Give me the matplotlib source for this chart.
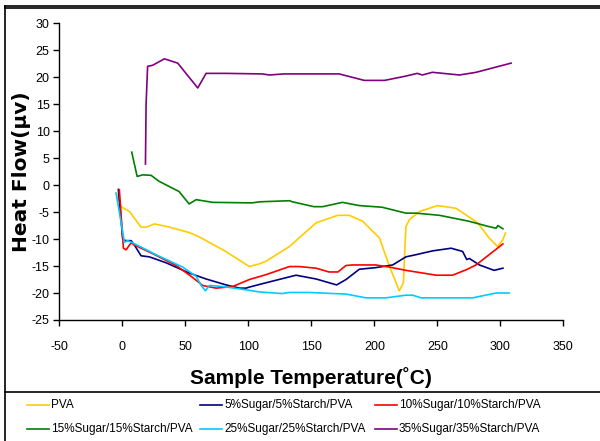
"""DSC heat-flow curves for PVA and sugar/starch/PVA blends."""

import matplotlib

matplotlib.use("Agg")
import matplotlib.pyplot as plt
from matplotlib.lines import Line2D

plt.rcParams["axes.unicode_minus"] = False

# values
pva_t = [-5, -1, 5.6, 14.8, 18.8, 25.4, 36, 53, 61, 82, 100.8, 108.7, 114, 132.5, 153.7,
         170.9, 180, 190.7, 204, 212, 219.8, 223, 225, 227.8, 235.7, 250, 264.8, 282, 291,
         297.9, 302, 304]
pva_q = [-1.5, -4.0, -4.9, -7.8, -7.8, -7.2, -7.7, -8.8, -9.6, -12.3, -15.1, -14.6, -14.1,
         -11.4, -7.0, -5.6, -5.6, -6.7, -9.8, -15.1, -19.6, -18.1, -7.7, -6.4, -4.9, -3.8,
         -4.3, -7.0, -9.8, -11.4, -10.1, -8.9]

s5_t = [-3.2, 0.3, 2.9, 6.9, 9.5, 14.8, 21.4, 34.7, 53, 66.4, 82.3, 93, 98, 100.8, 114,
        137.8, 153.7, 170, 177.5, 188, 201, 214.5, 225, 233, 246, 260.9, 270, 273.3, 275.4,
        283.3, 295, 302]
s5_q = [-0.8, -10.1, -10.3, -10.3, -11.1, -13.1, -13.3, -14.4, -16.3, -17.4, -18.5, -19.1,
        -19.1, -18.9, -18.1, -16.7, -17.4, -18.5, -17.5, -15.6, -15.3, -14.8, -13.3, -12.9,
        -12.2, -11.7, -12.3, -13.8, -13.6, -14.8, -15.8, -15.4]

s10_t = [-2.4, 0.8, 2.9, 6.9, 9.5, 24, 42.6, 54.5, 63.7, 74.4, 87.5, 100.8, 114, 132.5,
         140.5, 153.7, 164, 171, 177.5, 183, 201, 212, 225, 249, 262, 272.8, 280.7, 302]
s10_q = [-0.9, -11.7, -12.0, -10.7, -11.1, -12.7, -14.9, -16.9, -18.6, -19.1, -18.8, -17.5,
         -16.6, -15.1, -15.1, -15.4, -16.1, -16.1, -14.9, -14.8, -14.8, -15.2, -15.8, -16.7,
         -16.7, -15.7, -14.8, -10.9]

s15_t = [7.4, 11.7, 16.1, 22.8, 29.1, 45, 53, 58.5, 71.7, 103, 108.7, 132.5, 135, 152, 159,
         174.6, 188, 206, 225, 233, 251.6, 275, 291, 296.6, 298, 302]
s15_q = [6.1, 1.6, 1.9, 1.8, 0.7, -1.2, -3.5, -2.7, -3.2, -3.3, -3.1, -2.9, -3.1, -4.0, -4.0,
         -3.2, -3.8, -4.1, -5.2, -5.2, -5.6, -6.7, -7.7, -8.0, -7.5, -8.1]

s25_t = [-5, 1.6, 4.2, 8.2, 26.7, 47.9, 58.5, 62.5, 65.9, 69, 79.6, 98, 108.7, 127, 132.5,
         148, 177.5, 193.4, 209, 225, 230.4, 237, 278, 296.6, 307]
s25_q = [-1.5, -10.6, -10.3, -10.7, -12.9, -15.2, -16.9, -18.6, -19.6, -18.6, -18.8, -19.4,
         -19.8, -20.1, -19.9, -19.9, -20.2, -20.9, -20.9, -20.4, -20.4, -20.9, -20.9, -20.0,
         -20.0]

s35_t = [18.3, 18.8, 20, 24, 33.3, 43.9, 59.8, 66.4, 82.3, 111, 116.7, 128, 172, 192, 208,
         225, 234, 238, 246, 267.5, 280.7, 308.5]
s35_q = [3.9, 15.0, 22.0, 22.2, 23.4, 22.6, 18.0, 20.7, 20.7, 20.6, 20.4, 20.6, 20.6, 19.4,
         19.4, 20.2, 20.7, 20.4, 20.9, 20.4, 20.9, 22.6]

series = [
    ("PVA", pva_t, pva_q, "#ffcc00"),
    ("5%Sugar/5%Starch/PVA", s5_t, s5_q, "#000080"),
    ("10%Sugar/10%Starch/PVA", s10_t, s10_q, "#ff0000"),
    ("15%Sugar/15%Starch/PVA", s15_t, s15_q, "#008000"),
    ("25%Sugar/25%Starch/PVA", s25_t, s25_q, "#00ccff"),
    ("35%Sugar/35%Starch/PVA", s35_t, s35_q, "#800080"),
]

x_ticks = list(range(-50, 351, 50))
y_ticks = list(range(-25, 31, 5))

sans = "Liberation Sans"

fig = plt.figure(figsize=(6.0, 4.41), dpi=100)
ax = fig.add_axes([0.099, 0.2744, 0.840, 0.673])

for name, t, q, col in series:
    ax.plot(t, q, color=col, linewidth=1.2, label=name)

ax.set_xlim(-50, 350)
ax.set_ylim(-25, 30)
ax.set_xticks(x_ticks)
ax.set_yticks(y_ticks)
for s in ("top", "right"):
    ax.spines[s].set_visible(False)
for s in ("left", "bottom"):
    ax.spines[s].set_linewidth(1.0)
ax.tick_params(axis="both", direction="out", length=4, width=1.0, labelsize=9)
ax.tick_params(axis="x", pad=11)
ax.tick_params(axis="y", pad=3)
for lab in ax.get_xticklabels() + ax.get_yticklabels():
    lab.set_fontfamily(sans)

ax.set_xlabel("Sample Temperature(˚C)", fontsize=15, fontweight="bold",
              fontfamily=sans, labelpad=10)
ax.set_ylabel("Heat Flow(μv)", fontsize=14.5, fontweight="bold",
              fontfamily="DejaVu Sans", labelpad=4)
ax.yaxis.set_label_coords(-0.056, 0.5)

# outer frame and legend separator
frame = dict(color="black", linewidth=1.2, transform=fig.transFigure)
fig.add_artist(Line2D([5 / 600, 1], [1 - 6 / 441] * 2, **frame))
fig.add_artist(Line2D([5 / 600, 1], [1 - 8 / 441] * 2, **frame))
fig.add_artist(Line2D([5 / 600] * 2, [0, 1 - 6 / 441], **frame))
fig.add_artist(Line2D([5 / 600, 1], [1 - 392 / 441] * 2, **frame))

# legend laid out in the strip under the separator, 3 columns x 2 rows
col_x = [27, 200, 375]
row_y = [405, 429]
for i, (name, t, q, col) in enumerate(series):
    x0 = col_x[i % 3]
    y0 = 1 - row_y[i // 3] / 441
    fig.add_artist(Line2D([x0 / 600, (x0 + 22) / 600], [y0, y0], color=col,
                          linewidth=1.2, transform=fig.transFigure))
    fig.text((x0 + 24) / 600, y0, name, fontsize=8.5, fontfamily=sans,
             va="center", ha="left")

fig.savefig("out.png", dpi=100)
